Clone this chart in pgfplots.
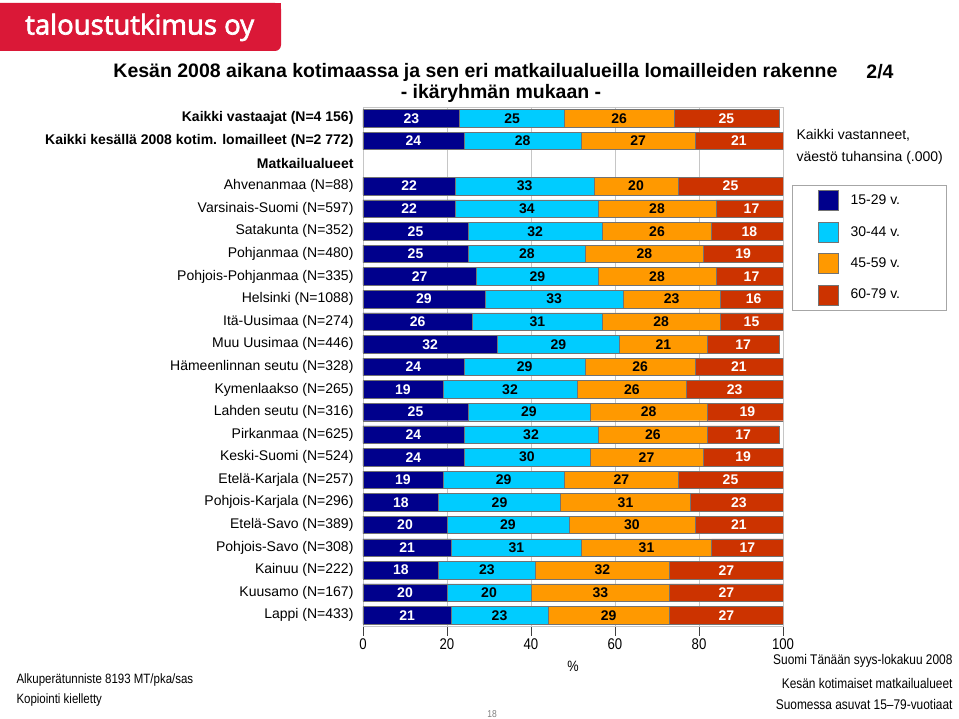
\documentclass[border=0pt]{standalone}
\usepackage{fontspec}
\setmainfont{Liberation Sans}
\newfontfamily\narrow[FakeStretch=0.85]{Liberation Sans}
\newfontfamily\logofont[FakeBold=2.5]{Open Sans}
\usepackage{pgfplots}
\pgfplotsset{compat=1.18}
\usepackage{pgfplotstable}

\definecolor{cA}{RGB}{0,0,140}
\definecolor{cB}{RGB}{0,204,255}
\definecolor{cC}{RGB}{255,153,0}
\definecolor{cD}{RGB}{204,51,0}
\definecolor{logored}{RGB}{218,24,55}

\pgfplotstableread{
row a b c d
0 23 25 26 25
1 24 28 27 21
3 22 33 20 25
4 22 34 28 17
5 25 32 26 18
6 25 28 28 19
7 27 29 28 17
8 29 33 23 16
9 26 31 28 15
10 32 29 21 17
11 24 29 26 21
12 19 32 26 23
13 25 29 28 19
14 24 32 26 17
15 24 30 27 19
16 19 29 27 25
17 18 29 31 23
18 20 29 30 21
19 21 31 31 17
20 18 23 32 27
21 20 20 33 27
22 21 23 29 27
}\datatable

\pgfplotsset{
  base/.style={
    scale only axis, width=420pt, height=519.6pt,
    xmin=0, xmax=100, ymin=-0.5, ymax=22.5, y dir=reverse,
    at={(363pt,-107pt)}, anchor=north west,
    /pgf/number format/assume math mode=true,
  },
  lab/.style={draw=none, mark=none, nodes near coords, point meta=explicit,
    nodes near coords style={anchor=center, font=\bfseries\fontsize{14}{14}\selectfont, text=#1}},
}

\begin{document}
\begin{tikzpicture}
\useasboundingbox (0,0) rectangle (959pt,-719pt);
\fill[white] (0,0) rectangle (959pt,-719pt);

% logo
\fill[logored, rounded corners=6pt] (0pt,-3pt) -- (281pt,-3pt) -- (281pt,-51pt) -- (0pt,-51pt) [sharp corners] -- cycle;
\fill[logored] (0pt,-3pt) rectangle (20pt,-51pt);
\fill[logored] (0pt,-3pt) rectangle (281pt,-20pt);
\node[anchor=base west, text=white, font=\logofont\fontsize{27.5}{27.5}\selectfont, inner sep=0pt] at (25pt,-34.5pt) {taloustutkimus oy};

% titles
\node[font=\bfseries\fontsize{19.5}{19.5}\selectfont, anchor=center] at (475.5pt,-72pt) {Kesän 2008 aikana kotimaassa ja sen eri matkailualueilla lomailleiden rakenne};
\node[font=\bfseries\fontsize{19.5}{19.5}\selectfont, anchor=center] at (880pt,-72pt) {2/4};
\node[font=\bfseries\fontsize{19.5}{19.5}\selectfont, anchor=center] at (501pt,-93pt) {- ikäryhmän mukaan -};

\node[font=\fontsize{14}{14}\selectfont, anchor=west] at (793pt,-135pt) {Kaikki vastanneet,};
\node[font=\fontsize{14}{14}\selectfont, anchor=west] at (793pt,-158pt) {väestö tuhansina (.000)};

\begin{axis}[base, xbar stacked, bar width=17.5pt,
  axis line style={gray!45},
  xtick={0,20,40,60,80,100}, xtick pos=lower, xmajorgrids, grid style={gray!45},
  tick align=outside, major tick length=9pt,
  x tick style={black!75},
  xticklabel style={font=\narrow\fontsize{15.5}{15.5}\selectfont},
  ytick={0,...,22}, y tick style={draw=none},
  yticklabel style={font=\fontsize{14}{14}\selectfont, xshift=3pt},
  yticklabels={\textbf{Kaikki vastaajat (N=4 156)},
    \textbf{Kaikki kesällä 2008 kotim. lomailleet (N=2 772)},
    \textbf{Matkailualueet},
    Ahvenanmaa (N=88), Varsinais-Suomi (N=597), Satakunta (N=352),
    Pohjanmaa (N=480), Pohjois-Pohjanmaa (N=335), Helsinki (N=1088),
    Itä-Uusimaa (N=274), Muu Uusimaa (N=446), Hämeenlinnan seutu (N=328),
    Kymenlaakso (N=265), Lahden seutu (N=316), Pirkanmaa (N=625),
    Keski-Suomi (N=524), Etelä-Karjala (N=257), Pohjois-Karjala (N=296),
    Etelä-Savo (N=389), Pohjois-Savo (N=308), Kainuu (N=222),
    Kuusamo (N=167), Lappi (N=433)},
  legend style={at={(1.0214,0.8497)}, anchor=north west, draw=gray!70,
    font=\fontsize{14}{14}\selectfont, row sep=11pt, inner xsep=26pt, inner ysep=5pt},
  legend cell align=left,
  legend image code/.code={\path[#1] (0pt,-10pt) rectangle (20pt,10pt); \path (30pt,0pt);},
]
\addplot[fill=cA, draw=black!55, line width=0.4pt] table[x=a, y=row]{\datatable};
\addplot[fill=cB, draw=black!55, line width=0.4pt] table[x=b, y=row]{\datatable};
\addplot[fill=cC, draw=black!55, line width=0.4pt] table[x=c, y=row]{\datatable};
\addplot[fill=cD, draw=black!55, line width=0.4pt] table[x=d, y=row]{\datatable};
\legend{\makebox[68pt][l]{15-29 v.}, 30-44 v., 45-59 v., 60-79 v.}
\end{axis}

\begin{axis}[base, hide axis]
\addplot[lab=white] table[x expr=\thisrow{a}/2, y=row, meta=a]{\datatable};
\addplot[lab=black] table[x expr=\thisrow{a}+\thisrow{b}/2, y=row, meta=b]{\datatable};
\addplot[lab=black] table[x expr=\thisrow{a}+\thisrow{b}+\thisrow{c}/2, y=row, meta=c]{\datatable};
\addplot[lab=white] table[x expr=\thisrow{a}+\thisrow{b}+\thisrow{c}+\thisrow{d}/2, y=row, meta=d]{\datatable};
\end{axis}

\node[font=\narrow\fontsize{15}{15}\selectfont] at (573pt,-666pt) {\%};
\node[font=\narrow\fontsize{13.5}{13.5}\selectfont, anchor=west] at (13pt,-680pt) {Alkuperätunniste 8193 MT/pka/sas};
\node[font=\narrow\fontsize{13.5}{13.5}\selectfont, anchor=west] at (13pt,-700pt) {Kopiointi kielletty};
\node[font=\narrow\fontsize{14}{14}\selectfont, anchor=east] at (956pt,-661pt) {Suomi Tänään syys-lokakuu 2008};
\node[font=\narrow\fontsize{14}{14}\selectfont, anchor=east] at (956pt,-683pt) {Kesän kotimaiset matkailualueet};
\node[font=\narrow\fontsize{14}{14}\selectfont, anchor=east] at (956pt,-704pt) {Suomessa asuvat 15–79-vuotiaat};
\node[font=\narrow\fontsize{10}{10}\selectfont, text=gray] at (492pt,-714pt) {18};
\end{tikzpicture}
\end{document}
